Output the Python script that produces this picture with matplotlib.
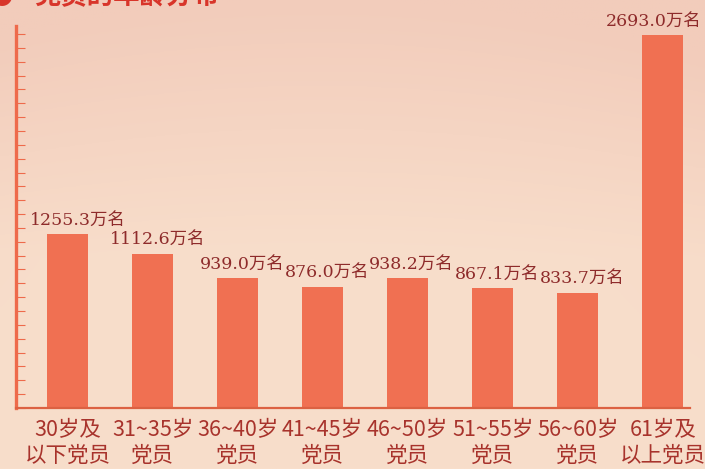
import matplotlib
matplotlib.use("Agg")
import matplotlib.pyplot as plt
import numpy as np

# 数据：党员年龄分布（万名）
groups = ["30岁及\n以下党员", "31~35岁\n党员", "36~40岁\n党员", "41~45岁\n党员",
          "46~50岁\n党员", "51~55岁\n党员", "56~60岁\n党员", "61岁及\n以上党员"]
members = [1255.3, 1112.6, 939.0, 876.0, 938.2, 867.1, 833.7, 2693.0]
title = "党员的年龄分布"

cjk = ["Noto Sans CJK SC", "DejaVu Sans"]
num_font = ["DejaVu Serif", "Noto Sans CJK SC"]

bar_col = "#F07052"
axis_col = "#EE6A4B"
label_col = "#8E2B2B"
tick_col = "#A8332C"

W, H = 705, 469
fig = plt.figure(figsize=(W / 100, H / 100), dpi=100)

# fond dégradé
bg = fig.add_axes([0, 0, 1, 1], zorder=-10)
yy = np.linspace(0, 1, 200)[:, None]
xx = np.linspace(0, 1, 300)[None, :]
top = np.array([242, 204, 187]) / 255
mid = np.array([248, 222, 203]) / 255
t = np.clip(yy / 0.55, 0, 1) + 0 * xx
side = 0.2 * (np.abs(xx - 0.45) * 2) ** 2 * (1 - yy)
t = np.clip(t - side, 0, 1)
img = top[None, None, :] * (1 - t[..., None]) + mid[None, None, :] * t[..., None]
bg.imshow(img, aspect="auto", extent=[0, 1, 0, 1], origin="upper")
bg.axis("off")

ax = fig.add_axes([16 / W, 61 / H, 674 / W, 382 / H])
ax.set_facecolor("none")
x = np.arange(len(members))
ax.bar(x, members, width=0.48, color=bar_col, zorder=2)
ax.set_xlim(-0.606, 7.32)
ax.set_ylim(0, 2758)

for s in ["top", "right"]:
    ax.spines[s].set_visible(False)
ax.spines["left"].set_color(axis_col)
ax.spines["left"].set_linewidth(2.4)
ax.spines["bottom"].set_color("#DC6142")
ax.spines["bottom"].set_linewidth(1.6)

ax.set_yticks(np.arange(0, 2701, 100))
ax.tick_params(axis="y", direction="in", length=6.5, width=0.8,
               color=axis_col, labelleft=False)
ax.set_xticks(x)
ax.set_xticklabels(groups, family=cjk, fontsize=15.5, fontweight="medium",
                   color=tick_col, linespacing=1.2)
ax.tick_params(axis="x", length=0, pad=8)

dx = [10, 5, 5, 4, 4, 4, 4, -9]
for i, v in enumerate(members):
    ax.annotate(f"{v:.1f}万名", (x[i], v), xytext=(dx[i] * 0.72, 4),
                textcoords="offset points", ha="center", va="bottom",
                family=num_font, fontsize=12.5, color=label_col)

fig.text(13 / W, 1 - 4 / H, "●", ha="right", va="baseline", fontsize=16,
         color="#D8352A", family=cjk)
fig.text(34 / W, 1 - 4 / H, title, ha="left", va="baseline", fontsize=19,
         fontweight="bold", color="#D8352A", family=cjk)

fig.savefig("out.png", dpi=100)
